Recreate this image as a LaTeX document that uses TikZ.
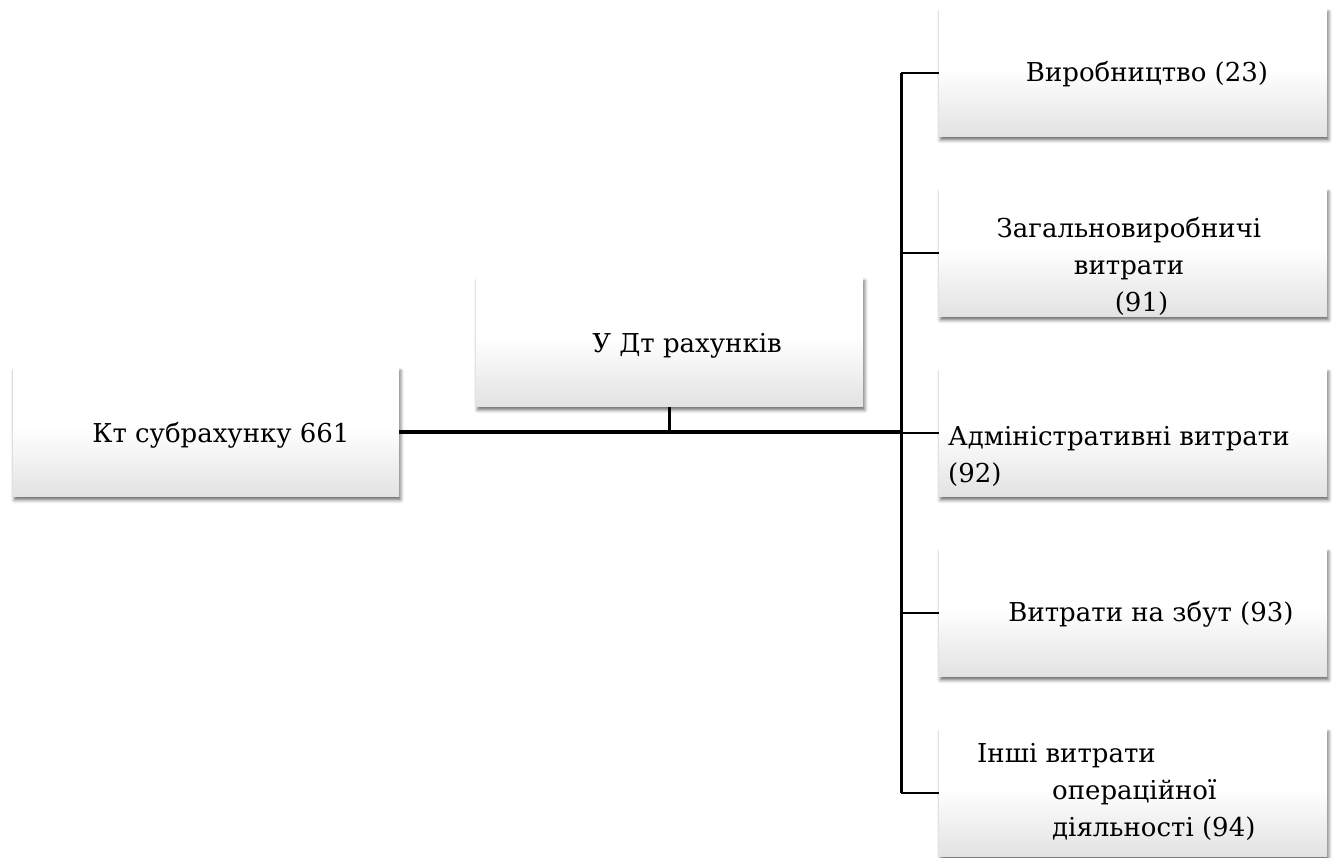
\documentclass[tikz,border=0pt]{standalone}
\usepackage{fontspec}
\setmainfont{DejaVu Serif}
\newfontfamily\labelfont{DejaVu Serif}
\usetikzlibrary{shadows.blur}
\definecolor{boxgray}{HTML}{E2E2E2}
\pgfdeclareverticalshading{boxfill}{100bp}{color(0bp)=(boxgray); color(25bp)=(boxgray); color(52bp)=(white); color(100bp)=(white)}
\tikzset{
  acct/.style={minimum width=388pt, minimum height=128pt, inner sep=0pt,
    shading=boxfill, draw=none,
    blur shadow={shadow xshift=1.5pt, shadow yshift=-3pt, shadow blur radius=3.5pt, shadow opacity=60}},
  lbl/.style={font=\labelfont\fontsize{26}{37}\selectfont, inner sep=0pt},
  mainline/.style={line width=4pt},
  branch/.style={line width=2pt},
  stub/.style={line width=3pt},
  spine/.style={line width=3pt}
}
\begin{document}
\begin{tikzpicture}[x=1pt,y=1pt]
\useasboundingbox (0,0) rectangle (1333,858);
% boxes
\node[acct, minimum width=386pt, minimum height=129pt] (b1) at (206,425.5) {};
\node[acct, minimum width=387pt, minimum height=129pt] (b2) at (669.5,515.5) {};
\node[acct] (r1) at (1133,785) {};
\node[acct] (r2) at (1133,605) {};
\node[acct] (r3) at (1133,425) {};
\node[acct] (r4) at (1133,245) {};
\node[acct] (r5) at (1133,65) {};
% labels (multi-line labels are placed by the baseline of their last line)
\node[lbl, anchor=base] (t1) at (221,415) {Кт субрахунку 661};
\node[lbl, anchor=base] (t2) at (687,505) {У Дт рахунків};
\node[lbl, anchor=base] (t3) at (1147,776) {Виробництво (23)};
\node[lbl, anchor=base, align=center] (t4) at (1129,546) {Загальновиробничі\\витрати\\\hspace*{25pt}(91)};
\node[lbl, anchor=base west, align=left] (t5) at (948,375) {Адміністративні витрати\\(92)};
\node[lbl, anchor=base] (t6) at (1151,236) {Витрати на збут (93)};
\node[lbl, anchor=base west, align=left] (t7) at (977,21) {Інші витрати\\\hspace*{75pt}операційної\\\hspace*{75pt}діяльності (94)};
% connectors
\coordinate (j) at (901,426);
\coordinate (top) at (901,785);
\coordinate (bot) at (901,65);
\draw[mainline] (b1.east |- j) -- (j);
\draw[stub] (b2.south) -- (b2.south |- j);
\draw[spine] (top) -- (bot);
\foreach \r in {r1,r2,r3,r4,r5}
  \draw[branch] (top |- \r.west) -- (\r.west);
\end{tikzpicture}
\end{document}
